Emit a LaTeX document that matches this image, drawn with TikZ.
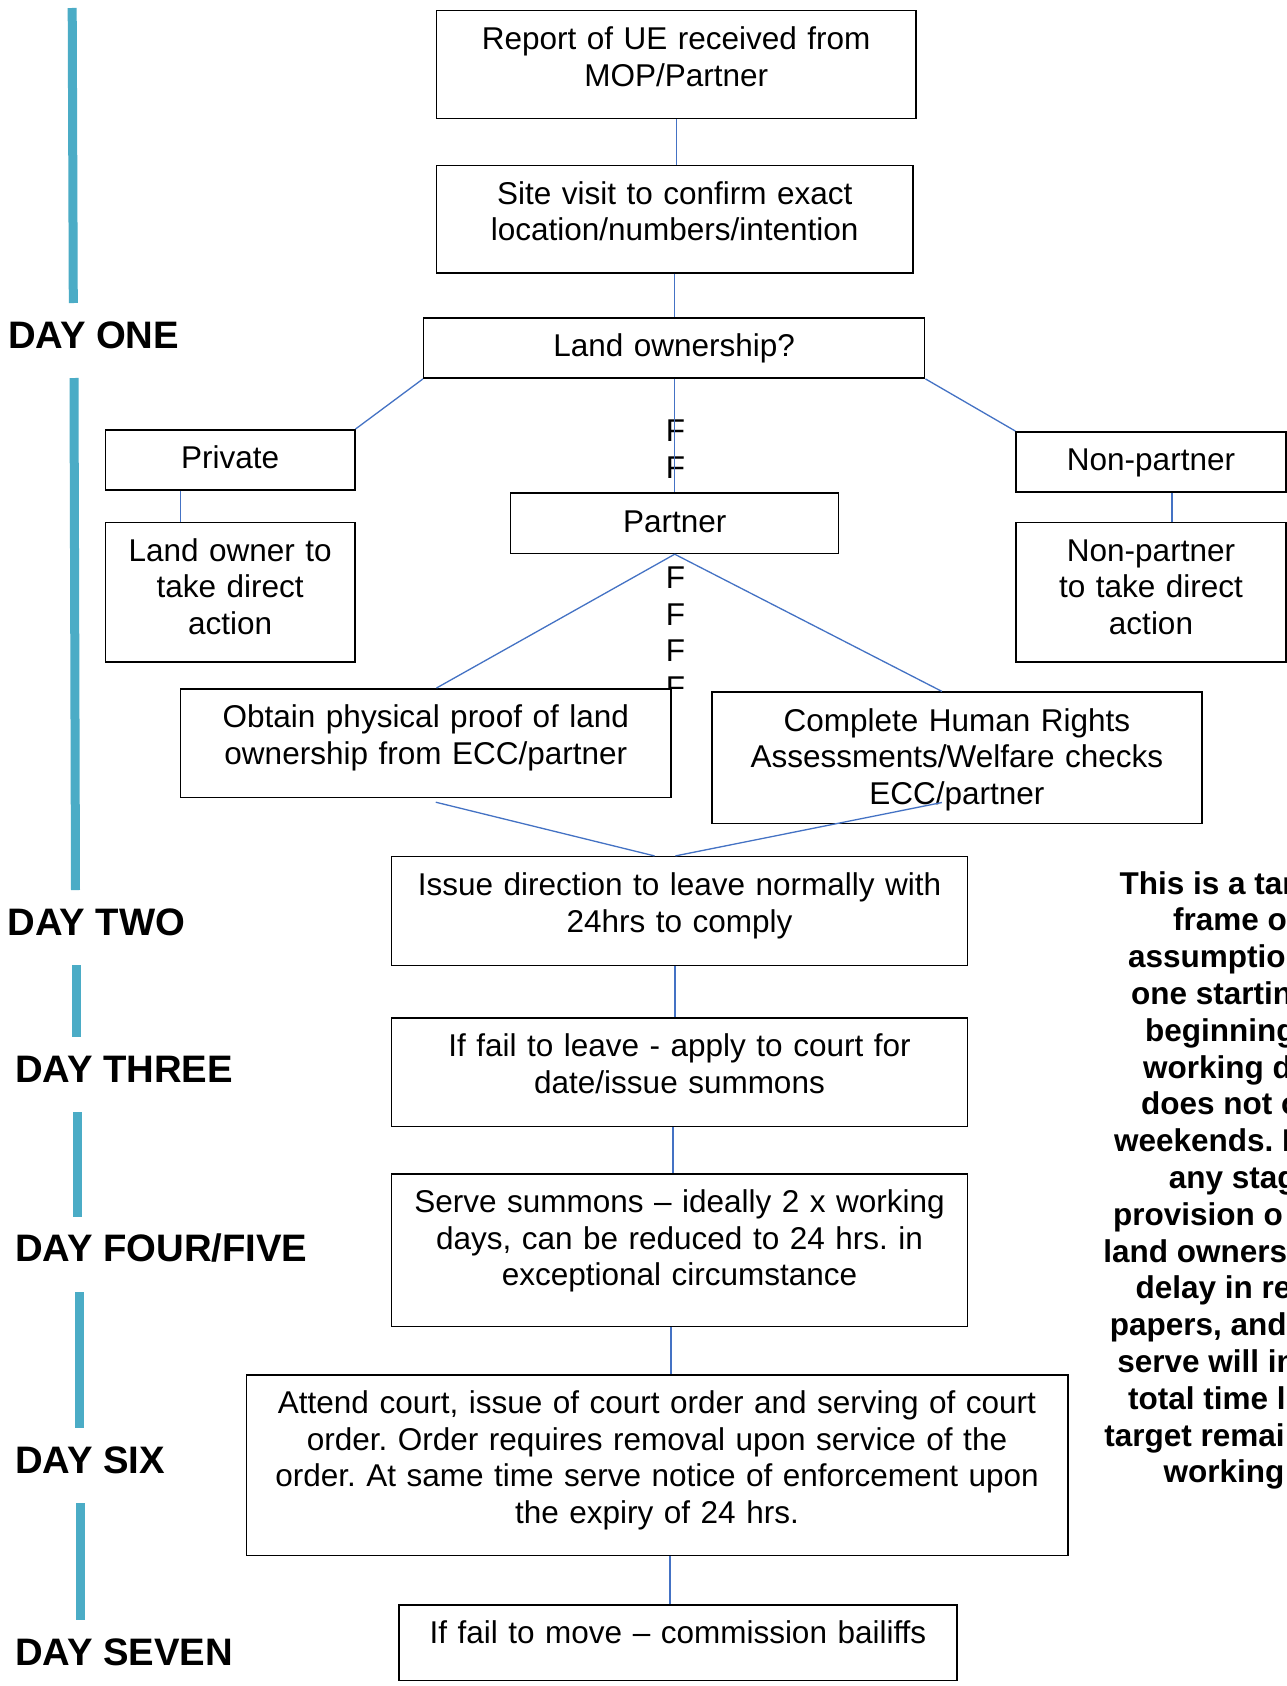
\documentclass[tikz,border=0pt]{standalone}
\usepackage{fontspec}
\setmainfont{Liberation Sans}
\frenchspacing
\definecolor{linkblue}{RGB}{68,114,196}
\definecolor{barteal}{RGB}{75,172,198}
\tikzset{
  stepbox/.style={draw,line width=1.5pt,fill=white,inner sep=0pt,anchor=north,align=center,
    text height=39pt,font=\fontsize{31.5}{36.6}\selectfont},
  link/.style={draw=linkblue,line width=1.3pt},
  daybar/.style={draw=barteal,line width=9pt},
  daylabel/.style={anchor=base west,inner sep=0pt,font=\fontsize{38.3}{44}\selectfont\bfseries},
  notetext/.style={anchor=base west,inner sep=0pt,font=\fontsize{31.5}{36.6}\selectfont\bfseries},
  fmark/.style={anchor=base,inner sep=0pt,font=\fontsize{31.5}{36.6}\selectfont},
}
\begin{document}
\begin{tikzpicture}[x=1pt,y=-1pt]
    \useasboundingbox[fill=white](0,0)rectangle(1287,1686);
    \clip(0,0)rectangle(1287,1686);
    \begin{scope}
        \clip(0,0)rectangle(1287,688);
        \foreach \k in {0,1,4,5,6,7}
            \node[fmark](f\k)at(675.5,441.5+36.7*\k){F};
    \end{scope}
    \node[stepbox,text width=479.5pt,text depth=69pt](report)at(676.2,9.7){Report of UE received from\\MOP/Partner};
    \node[stepbox,text width=476.5pt,text depth=68.5pt](site)at(674.7,164.5){Site visit to confirm exact\\location/numbers/intention};
    \node[stepbox,text width=501pt,text depth=21.4pt](land)at(674.2,317){Land ownership?};
    \node[stepbox,text width=249.4pt,text depth=21.2pt](private)at(230.1,429){Private};
    \node[stepbox,text width=249.4pt,text depth=100.5pt](landowner)at(230.1,521.5){Land owner to\\take direct\\action};
    \node[stepbox,text width=328pt,text depth=21.3pt](partner)at(674.7,492.4){Partner};
    \node[stepbox,text width=270pt,text depth=21.4pt](nonpartner)at(1151,431){Non-partner};
    \node[stepbox,text width=270pt,text depth=100.5pt](nptake)at(1151,521.5){Non-partner\\to take direct\\action};
    \node[stepbox,text width=490.4pt,text depth=69.7pt](obtain)at(425.8,688){Obtain physical proof of land\\ownership from ECC/partner};
    \node[stepbox,text width=490.2pt,text depth=92.1pt](rights)at(956.9,691.4){Complete Human Rights\\Assessments/Welfare checks\\ECC/partner};
    \node[stepbox,text width=576.3pt,text depth=69.6pt](issue)at(679.5,855.9){Issue direction to leave normally with\\24hrs to comply};
    \node[stepbox,text width=576.3pt,text depth=69.7pt](apply)at(679.5,1017){If fail to leave - apply to court for\\date/issue summons};
    \node[stepbox,text width=576.3pt,text depth=113.7pt](serve)at(679.5,1173){Serve summons -- ideally 2 x working\\days, can be reduced to 24 hrs. in\\exceptional circumstance};
    \node[stepbox,text width=821.5pt,text depth=141.7pt](attend)at(657,1374){Attend court, issue of court order and serving of court\\order. Order requires removal upon service of the\\order. At same time serve notice of enforcement upon\\the expiry of 24 hrs.};
    \node[stepbox,text width=558pt,text depth=36.3pt](bailiffs)at(678,1604.2){If fail to move -- commission bailiffs};
    \draw[link](report.south)--(report.south|-site.north);
    \draw[link](site.south)--(site.south|-land.north);
    \draw[link](land.south west)--(private.north east);
    \draw[link](land.south east)--(nonpartner.north west);
    \draw[link](land.south)--(land.south|-partner.north);
    \draw[link]([xshift=-49.5pt]private.south)--([xshift=-49.5pt]private.south|-landowner.north);
    \draw[link]([xshift=21pt]nonpartner.south)--([xshift=21pt]nonpartner.south|-nptake.north);
    \draw[link](partner.south)--([xshift=10.7pt]obtain.north);
    \draw[link](partner.south)--([xshift=-15pt]rights.north);
    \draw[link]([xshift=10pt,yshift=-4pt]obtain.south)--([xshift=-25pt]issue.north);
    \draw[link]([xshift=-15pt,yshift=21.5pt]rights.south)--([xshift=-4pt]issue.north);
    \draw[link]([xshift=-4.5pt]issue.south)--([xshift=-4.5pt]issue.south|-apply.north);
    \draw[link]([xshift=-6.5pt]apply.south)--([xshift=-6.5pt]apply.south|-serve.north);
    \draw[link]([xshift=-8.5pt]serve.south)--([xshift=-8.5pt]serve.south|-attend.north);
    \draw[link]([xshift=13pt]attend.south)--([xshift=13pt]attend.south|-bailiffs.north);
    % day markers
    \draw[daybar](72.2,8)--(73.3,303);
    \draw[daybar](74,378)--(75.5,890);
    \draw[daybar](76.8,965)--(76.8,1037);
    \draw[daybar](77.7,1112)--(77.7,1217);
    \draw[daybar](79.2,1292)--(79.2,1428);
    \draw[daybar](80,1503)--(80,1620);
    \node[daylabel](dayone)at(8,348.3){DAY ONE};
    \node[daylabel](daytwo)at(7.5,935.7){DAY TWO};
    \node[daylabel](daythree)at(15,1082.3){DAY THREE};
    \node[daylabel](dayfour)at(15,1261.6){DAY FOUR/FIVE};
    \node[daylabel](daysix)at(15,1473.3){DAY SIX};
    \node[daylabel](dayseven)at(15,1665.7){DAY SEVEN};
    % note on the right, cut by the page edge
    \foreach \x/\t [count=\k from 0] in {1119.3/{This is a tar},1173/{frame o},1127.9/{assumptio},
        1131/{one startin},1145/{beginning},1143/{working d},1140.8/{does not o},1113.9/{weekends. I},
        1168.7/{any stag},1112.8/{provision o},1103.2/{land owners},1135.4/{delay in re},
        1109.6/{papers, and},1117.1/{serve will in},1127.9/{total time l},1104.2/{target remai},1163.4/{working}}
        \node[notetext](note\k)at(\x,894+36.8*\k){\t};
\end{tikzpicture}
\end{document}
